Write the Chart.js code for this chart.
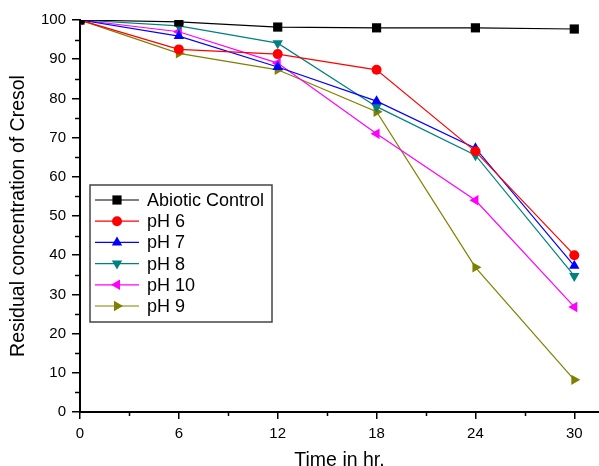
<!DOCTYPE html>
<html>
<head>
<meta charset="utf-8">
<script src="https://cdn.jsdelivr.net/npm/chart.js@4/dist/chart.umd.min.js"></script>
<style>
  html, body { margin: 0; padding: 0; background: #fff; overflow: hidden; }
  #wrap { width: 599px; height: 466px; }
</style>
</head>
<body>
<div id="wrap"><canvas id="c" width="599" height="466"></canvas></div>
<script>
// Sampling times (hours)
const times = [0, 6, 12, 18, 24, 30];

// Residual cresol concentration for each condition
const abioticControl = [100, 99.5, 98.2, 98.0, 98.0, 97.7];
const ph6  = [100, 92.5, 91.3, 87.3, 66.5, 40.0];
const ph7  = [100, 95.9, 88.0, 79.3, 67.3, 37.3];
const ph8  = [100, 98.5, 94.1, 77.9, 65.5, 34.7];
const ph10 = [100, 97.0, 89.0, 71.0, 54.0, 26.8];
const ph9  = [100, 91.5, 87.3, 76.6, 36.9, 8.2];

const seriesNames = ['Abiotic Control', 'pH 6', 'pH 7', 'pH 8', 'pH 10', 'pH 9'];
const xTicks = [0, 6, 12, 18, 24, 30];
const yTicks = [0, 10, 20, 30, 40, 50, 60, 70, 80, 90, 100];

const FONT = '"Liberation Sans", Arial, sans-serif';

const styles = [
  { color: '#000000', pointStyle: 'rect',     rotation: 0,   radius: 6.5 },
  { color: '#ff0000', pointStyle: 'circle',   rotation: 0,   radius: 5 },
  { color: '#0000ff', pointStyle: 'triangle', rotation: 0,   radius: 6 },
  { color: '#008080', pointStyle: 'triangle', rotation: 180, radius: 6 },
  { color: '#ff00ff', pointStyle: 'triangle', rotation: 270, radius: 6 },
  { color: '#808000', pointStyle: 'triangle', rotation: 90,  radius: 6 }
];
const values = [abioticControl, ph6, ph7, ph8, ph10, ph9];

const datasets = values.map((vals, i) => ({
  label: seriesNames[i],
  data: vals.map((v, k) => ({ x: times[k], y: v })),
  borderColor: styles[i].color,
  backgroundColor: styles[i].color,
  pointBackgroundColor: styles[i].color,
  pointBorderColor: styles[i].color,
  pointStyle: styles[i].pointStyle,
  rotation: styles[i].rotation,
  pointRadius: styles[i].radius,
  pointHoverRadius: styles[i].radius,
  pointBorderWidth: 0,
  borderWidth: 1.2,
  tension: 0,
  fill: false
}));

// Minor ticks between labelled ticks on both axes
const minorTicks = {
  id: 'minorTicks',
  afterDraw(chart) {
    const ctx = chart.ctx;
    const xs = chart.scales.x, ys = chart.scales.y;
    const area = chart.chartArea;
    ctx.save();
    ctx.strokeStyle = '#000';
    ctx.lineWidth = 1.5;
    ctx.beginPath();
    for (let v = 3; v < 31; v += 6) {
      const px = Math.round(xs.getPixelForValue(v)) + 0.5;
      ctx.moveTo(px, area.bottom);
      ctx.lineTo(px, area.bottom + 4);
    }
    for (let v = 5; v < 100; v += 10) {
      const py = Math.round(ys.getPixelForValue(v)) + 0.5;
      ctx.moveTo(area.left, py);
      ctx.lineTo(area.left - 5, py);
    }
    ctx.stroke();
    ctx.restore();
  }
};

// Boxed legend with a line segment and marker for each series
const boxedLegend = {
  id: 'boxedLegend',
  afterDraw(chart) {
    const ctx = chart.ctx;
    const left = 90, top = 185, width = 182, height = 137;
    const rowY0 = 200, rowGap = 21.2;
    ctx.save();
    ctx.fillStyle = '#fff';
    ctx.fillRect(left, top, width, height);
    ctx.strokeStyle = '#444';
    ctx.lineWidth = 1.5;
    ctx.strokeRect(left, top, width, height);
    chart.data.datasets.forEach((ds, i) => {
      const y = rowY0 + i * rowGap;
      ctx.strokeStyle = ds.borderColor;
      ctx.lineWidth = 1.2;
      ctx.beginPath();
      ctx.moveTo(95, y);
      ctx.lineTo(139, y);
      ctx.stroke();
      ctx.fillStyle = ds.borderColor;
      ctx.strokeStyle = ds.borderColor;
      Chart.helpers.drawPoint(ctx, {
        pointStyle: ds.pointStyle,
        rotation: ds.rotation,
        radius: ds.pointRadius,
        borderWidth: 0
      }, 117, y);
      ctx.fillStyle = '#000';
      ctx.font = '18px ' + FONT;
      ctx.textBaseline = 'middle';
      ctx.textAlign = 'left';
      ctx.fillText(ds.label, 147, y + 1);
    });
    ctx.restore();
  }
};

new Chart(document.getElementById('c'), {
  type: 'line',
  data: { datasets },
  plugins: [minorTicks, boxedLegend],
  options: {
    responsive: false,
    animation: false,
    devicePixelRatio: 1,
    layout: { autoPadding: false, padding: { top: 20, right: 0, bottom: 0, left: 0 } },
    plugins: {
      legend: { display: false },
      tooltip: { enabled: false }
    },
    scales: {
      x: {
        type: 'linear',
        min: 0,
        max: 31.5,
        afterBuildTicks(scale) { scale.ticks = xTicks.map(v => ({ value: v })); },
        afterFit(scale) { scale.height = 54; scale.paddingLeft = 0; scale.paddingRight = 0; },
        ticks: {
          color: '#000',
          font: { family: FONT, size: 15 },
          padding: 6,
          maxRotation: 0,
          autoSkip: false
        },
        grid: { drawOnChartArea: false, drawTicks: true, tickLength: 7, color: '#000', lineWidth: 1.5 },
        border: { display: true, color: '#000', width: 2 },
        title: {
          display: true,
          text: 'Time in hr.',
          color: '#000',
          font: { family: FONT, size: 19.5 },
          padding: { top: 0, bottom: -6 }
        }
      },
      y: {
        type: 'linear',
        min: 0,
        max: 100,
        afterBuildTicks(scale) { scale.ticks = yTicks.map(v => ({ value: v })); },
        afterFit(scale) { scale.width = 80; },
        ticks: {
          color: '#000',
          font: { family: FONT, size: 15 },
          padding: 6,
          autoSkip: false
        },
        grid: { drawOnChartArea: false, drawTicks: true, tickLength: 8, color: '#000', lineWidth: 1.5 },
        border: { display: true, color: '#000', width: 2 },
        title: {
          display: true,
          text: 'Residual concentration of Cresol',
          color: '#000',
          font: { family: FONT, size: 19.5 },
          padding: { top: 7, bottom: 0 }
        }
      }
    }
  }
});
</script>
</body>
</html>
